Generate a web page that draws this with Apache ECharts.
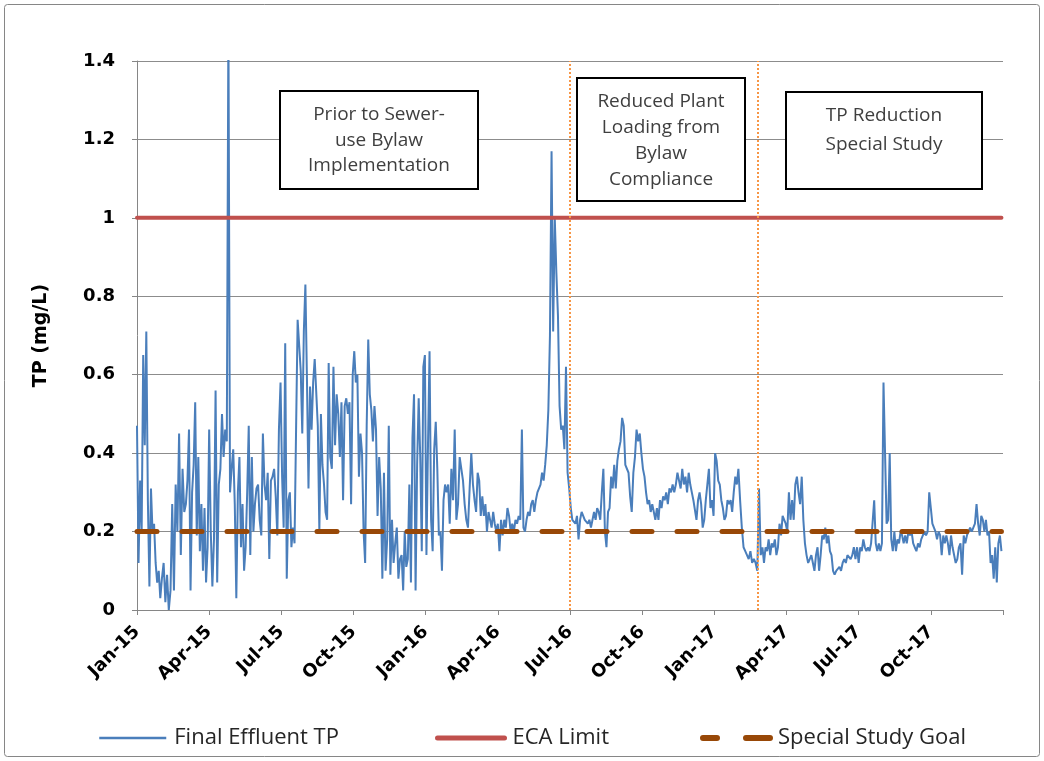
<!DOCTYPE html>
<html>
<head>
<meta charset="utf-8">
<script src="https://cdn.jsdelivr.net/npm/echarts@6/dist/echarts.min.js"></script>
<style>
html,body{margin:0;padding:0;background:#ffffff;}
#chart{width:1044px;height:761px;}
</style>
</head>
<body>
<div id="chart"></div>
<script>
// ---------------- DATA ----------------
const startDate = '2015-01-01';
const stepDays = 2;
// Final effluent TP (mg/L), one reading every 2 days from 2015-01-01
const finalEffluentTP = [
  0.47,0.12,0.33,0.20,0.65,0.42,0.71,0.28,0.06,0.31,0.20,0.22,0.12,0.07,0.10,0.03,
  0.08,0.12,0.02,0.09,0.00,0.05,0.27,0.05,0.32,0.20,0.45,0.14,0.36,0.25,
  0.27,0.33,0.46,0.05,0.30,0.37,0.53,0.19,0.39,0.15,0.27,0.10,0.26,0.07,0.16,
  0.46,0.20,0.06,0.18,0.56,0.07,0.32,0.36,0.50,0.39,0.46,0.43,1.50,0.30,0.36,
  0.41,0.27,0.03,0.30,0.39,0.16,0.27,0.10,0.16,0.30,0.47,0.14,0.39,
  0.20,0.27,0.31,0.32,0.23,0.19,0.45,0.32,0.28,0.35,0.13,0.33,0.34,0.36,0.29,0.19,0.46,0.58,
  0.34,0.21,0.68,0.08,0.28,0.30,0.16,0.21,0.17,0.46,0.74,0.74,0.61,0.45,0.71,0.83,0.59,0.31,
  0.57,0.46,0.58,0.64,0.64,0.47,0.20,0.50,0.37,0.32,0.25,0.23,0.63,0.39,0.36,0.62,0.42,0.55,
  0.50,0.39,0.53,0.28,0.52,0.54,0.50,0.53,0.27,0.60,0.66,0.58,0.60,0.34,0.45,0.40,0.20,0.12,
  0.47,0.69,0.55,0.51,0.43,0.52,0.46,0.24,0.39,0.31,0.08,0.35,0.10,0.18,0.47,0.09,0.23,0.12,
  0.17,0.21,0.08,0.13,0.14,0.05,0.20,0.11,0.13,0.32,0.07,0.44,0.55,0.05,0.37,0.54,0.39,0.15,
  0.62,0.65,0.14,0.42,0.66,0.23,0.15,0.41,0.48,0.36,0.19,0.20,0.10,0.28,0.32,0.30,0.32,0.22,
  0.36,0.28,0.46,0.23,0.27,0.39,0.36,0.33,0.27,0.23,0.21,0.31,0.40,0.32,0.28,0.25,0.35,0.33,
  0.24,0.29,0.24,0.27,0.20,0.25,0.25,0.21,0.25,0.22,0.20,0.22,0.15,0.23,0.19,0.23,0.21,0.26,
  0.24,0.20,0.22,0.20,0.23,0.22,0.24,0.23,0.46,0.21,0.20,0.23,0.25,0.24,0.27,0.28,0.25,0.28,
  0.30,0.30,0.32,0.35,0.33,0.37,0.42,0.51,0.70,1.17,0.71,1.00,0.86,0.75,0.52,0.46,0.47,0.41,
  0.62,0.35,0.31,0.26,0.23,0.23,0.22,0.24,0.18,0.23,0.25,0.24,0.23,0.23,0.22,0.23,0.21,0.23,0.25,
  0.23,0.26,0.25,0.23,0.30,0.36,0.20,0.16,0.25,0.26,0.34,0.31,0.37,0.31,0.38,0.41,0.43,0.49,
  0.47,0.37,0.37,0.35,0.29,0.25,0.35,0.39,0.46,0.43,0.45,0.40,0.36,0.34,0.30,0.27,0.28,0.25,
  0.27,0.27,0.23,0.26,0.23,0.28,0.26,0.29,0.28,0.30,0.27,0.31,0.30,0.32,0.30,0.32,0.35,0.33,0.31,
  0.36,0.32,0.34,0.30,0.35,0.32,0.30,0.28,0.28,0.23,0.28,0.30,0.27,0.21,0.23,0.28,0.32,0.36,
  0.26,0.28,0.24,0.40,0.38,0.33,0.32,0.28,0.26,0.23,0.24,0.28,0.27,0.28,0.25,0.30,0.34,0.32,
  0.36,0.28,0.21,0.16,0.15,0.14,0.13,0.15,0.12,0.13,0.12,0.10,0.31,0.14,0.16,0.12,0.16,0.15,
  0.18,0.14,0.17,0.16,0.18,0.14,0.16,0.22,0.19,0.24,0.23,0.22,0.20,0.30,0.23,0.28,0.23,0.32,0.34,
  0.30,0.27,0.34,0.23,0.17,0.14,0.12,0.13,0.14,0.12,0.10,0.14,0.16,0.10,0.14,0.19,0.18,0.21,
  0.17,0.19,0.15,0.14,0.10,0.09,0.10,0.10,0.11,0.10,0.12,0.13,0.12,0.14,0.14,0.13,0.14,0.16,
  0.13,0.16,0.12,0.16,0.15,0.18,0.16,0.15,0.16,0.15,0.17,0.17,0.28,0.17,0.15,0.17,0.15,0.17,
  0.58,0.40,0.22,0.23,0.40,0.18,0.15,0.20,0.15,0.18,0.17,0.20,0.19,0.17,0.19,0.17,0.20,0.19,0.20,
  0.17,0.16,0.15,0.17,0.16,0.18,0.18,0.20,0.19,0.20,0.30,0.26,0.22,0.21,0.20,0.18,0.20,0.19,
  0.14,0.19,0.17,0.19,0.17,0.14,0.19,0.16,0.16,0.12,0.13,0.16,0.17,0.09,0.19,0.17,0.19,0.19,0.21,
  0.20,0.20,0.22,0.27,0.22,0.19,0.24,0.23,0.20,0.23,0.19,0.20,0.12,0.14,0.08,0.16,0.07,0.17,0.19,0.15
];
const ecaLimit = 1.0;
const specialStudyGoal = 0.2;
const phaseBoundaryDates = ['2016-07-01', '2017-02-24'];
const monthNames = ['Jan','Feb','Mar','Apr','May','Jun','Jul','Aug','Sep','Oct','Nov','Dec'];
const axisFirstYear = 2015;
const axisMonths = 36;
const tickStepMonths = 3;
const yTicks = { min: 0, max: 1.4, step: 0.2 };
const seriesNames = ['Final Effluent TP', 'ECA Limit', 'Special Study Goal'];
const annotationTexts = [
  ['Prior to Sewer-', 'use Bylaw', 'Implementation'],
  ['Reduced Plant', 'Loading from', 'Bylaw', 'Compliance'],
  ['TP Reduction', 'Special Study']
];

// -------------- helpers --------------
function parseUTC(s) { const p = s.split('-').map(Number); return new Date(Date.UTC(p[0], p[1]-1, p[2])); }
function monthPos(d) {
  const y = d.getUTCFullYear(), m = d.getUTCMonth(), day = d.getUTCDate();
  const dim = new Date(Date.UTC(y, m + 1, 0)).getUTCDate();
  return (y - axisFirstYear) * 12 + m + (day - 1) / dim;
}
const t0 = parseUTC(startDate).getTime();
const tpData = finalEffluentTP.map((v, i) => [monthPos(new Date(t0 + i * stepDays * 86400000)), v]);
const xFirst = tpData[0][0], xLast = tpData[tpData.length - 1][0];
const ecaData = [[xFirst, ecaLimit], [xLast, ecaLimit]];
const goalData = [[xFirst, specialStudyGoal], [xLast, specialStudyGoal]];
const phaseX = phaseBoundaryDates.map(s => monthPos(parseUTC(s)));

const chart = echarts.init(document.getElementById('chart'), null, { renderer: 'canvas' });

const tickFont = 'DejaVu Sans';
const textFont = 'Open Sans';

function boxGraphic(x, y, w, h, lines, cy, lh) {
  return {
    type: 'group',
    children: [
      { type: 'rect', shape: { x: x, y: y, width: w, height: h },
        style: { fill: '#ffffff', stroke: '#000000', lineWidth: 2 }, z: 100 },
      { type: 'text', z: 101,
        style: { text: lines.join('\n'), x: x + w / 2, y: cy, align: 'center', verticalAlign: 'middle',
                 font: '19px "' + textFont + '"', lineHeight: lh, fill: '#3f3f3f' } }
    ]
  };
}

const legendCommon = {
  orient: 'horizontal', itemWidth: 67, itemHeight: 16, itemGap: 10, selectedMode: false,
  padding: 0,
  itemStyle: { color: 'rgba(0,0,0,0)', opacity: 0, borderWidth: 0 },
  textStyle: { fontFamily: textFont, fontSize: 22, color: '#262626', padding: [0, 0, 0, 3] }
};

chart.setOption({
  animation: false,
  backgroundColor: '#ffffff',
  grid: { left: 137, right: 41, top: 61, bottom: 151, containLabel: false },
  xAxis: {
    type: 'value', min: 0, max: axisMonths, interval: tickStepMonths,
    splitLine: { show: false },
    axisLine: { show: true, lineStyle: { color: '#868686', width: 1 } },
    axisTick: { show: true, inside: false, length: 5, lineStyle: { color: '#868686' } },
    axisLabel: {
      rotate: 45, margin: 19, fontFamily: tickFont, fontWeight: 'bold', fontSize: 18, color: '#000000',
      formatter: function (v) {
        if (v >= axisMonths) return '';
        const m = Math.round(v) % 12;
        const y = axisFirstYear + Math.floor(Math.round(v) / 12);
        return monthNames[m] + '-' + String(y).slice(2);
      }
    }
  },
  yAxis: {
    type: 'value', min: yTicks.min, max: yTicks.max, interval: yTicks.step,
    name: 'TP (mg/L)', nameLocation: 'middle', nameGap: 86, nameRotate: 90,
    nameTextStyle: { fontFamily: tickFont, fontWeight: 'bold', fontSize: 19, color: '#000000' },
    splitLine: { show: true, lineStyle: { color: '#8c8c8c', width: 1 } },
    axisLine: { show: true, lineStyle: { color: '#868686', width: 1 } },
    axisTick: { show: true, inside: false, length: 5, lineStyle: { color: '#868686' } },
    axisLabel: {
      margin: 22, fontFamily: tickFont, fontWeight: 'bold', fontSize: 18, color: '#000000',
      formatter: function (v) { return String(+v.toFixed(1)); }
    }
  },
  legend: [
    Object.assign({}, legendCommon, { data: [seriesNames[0]], left: 98, top: 727, lineStyle: { width: 2.5 } }),
    Object.assign({}, legendCommon, { data: [seriesNames[1]], left: 435, top: 727, lineStyle: { width: 5 } }),
    Object.assign({}, legendCommon, { data: [seriesNames[2]], left: 700, top: 727, lineStyle: { width: 6, type: [14, 29, 24, 60], cap: 'round' } })
  ],
  series: [
    {
      name: seriesNames[0], type: 'line', data: tpData, showSymbol: false, symbol: 'none', clip: true, z: 2,
      lineStyle: { color: '#4a7ebb', width: 2 }, itemStyle: { color: '#4a7ebb' },
      markLine: {
        silent: true, symbol: ['none', 'none'], label: { show: false }, z: 5,
        lineStyle: { color: '#f79646', type: [2, 2], width: 2 },
        data: phaseX.map(x => ({ xAxis: x }))
      }
    },
    {
      name: seriesNames[1], type: 'line', data: ecaData, showSymbol: false, symbol: 'none', z: 3,
      lineStyle: { color: '#c0504d', width: 4, cap: 'round' }, itemStyle: { color: '#c0504d' }
    },
    {
      name: seriesNames[2], type: 'line', data: goalData, showSymbol: false, symbol: 'none', z: 4,
      lineStyle: { color: '#984807', width: 5, type: [20, 25], cap: 'round' }, itemStyle: { color: '#984807' }
    }
  ],
  graphic: [
    { type: 'rect', shape: { x: 4.5, y: 4.5, width: 1035, height: 752, r: 3 },
      style: { fill: 'none', stroke: '#868686', lineWidth: 1 }, z: 0, silent: true },
    boxGraphic(280, 91, 198, 98, annotationTexts[0], 140.5, 25.5),
    boxGraphic(577, 78, 168, 123, annotationTexts[1], 140.5, 25.8),
    boxGraphic(786, 92, 196, 97, annotationTexts[2], 130.5, 29)
  ]
});
</script>
</body>
</html>
